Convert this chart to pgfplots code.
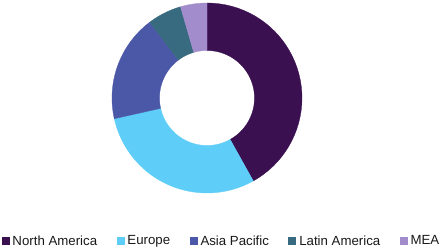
\documentclass[border=0pt]{standalone}
\usepackage{pgfplots}
\usepackage{pgfplotstable}
\pgfplotsset{compat=1.18}
\usepackage{fontspec}
\setmainfont{Liberation Sans}
\definecolor{cNA}{HTML}{3A1050}
\definecolor{cEU}{HTML}{5ECDF7}
\definecolor{cAP}{HTML}{4B58A8}
\definecolor{cLA}{HTML}{386A80}
\definecolor{cME}{HTML}{A28CCB}
\pgfplotstableread{
region share
NorthAmerica 41.9
Europe 29.6
AsiaPacific 18.2
LatinAmerica 5.8
MEA 4.5
}\shares
\def\cA{0}
\pgfplotstablegetelem{0}{share}\of\shares \pgfmathsetmacro\cB{\cA+\pgfplotsretval}
\pgfplotstablegetelem{1}{share}\of\shares \pgfmathsetmacro\cC{\cB+\pgfplotsretval}
\pgfplotstablegetelem{2}{share}\of\shares \pgfmathsetmacro\cD{\cC+\pgfplotsretval}
\pgfplotstablegetelem{3}{share}\of\shares \pgfmathsetmacro\cE{\cD+\pgfplotsretval}
\pgfplotstablegetelem{4}{share}\of\shares \pgfmathsetmacro\cF{\cE+\pgfplotsretval}
\begin{document}
\begin{tikzpicture}
\begin{axis}[
  x=1bp, y=1bp, xmin=0, xmax=441, ymin=0, ymax=249,
  hide axis, clip=false, scale only axis,
  declare function={
    ringr(\t)=(\t<50)*95+(\t>50)*47.5;
    ringa(\t,\a,\b)=90-3.6*((\t<50)*(\a+(\b-\a)*\t/40)+(\t>50)*(\b-(\b-\a)*(\t-100)/40));
  },
  samples at={0,1,...,40,100,101,...,140}, variable=\t,
  legend columns=5,
  legend image code/.code={\fill[#1] (0bp,-3.5bp) rectangle (7bp,3.5bp); \path (9bp,0bp);},
  legend style={draw=none, fill=none, at={(0.0034,0.032)}, anchor=west, inner sep=0pt,
    font=\fontsize{13.3}{15}\selectfont, text=black!90,
    nodes={inner sep=1.5bp},
    /tikz/every even column/.append style={column sep=18bp}},
]
\addplot[fill=cNA, draw=cNA, line width=0.3pt] ({207+ringr(\t)*cos(ringa(\t,\cA,\cB))}, {151+ringr(\t)*sin(ringa(\t,\cA,\cB))}) -- cycle;
\addplot[fill=cEU, draw=cEU, line width=0.3pt] ({207+ringr(\t)*cos(ringa(\t,\cB,\cC))}, {151+ringr(\t)*sin(ringa(\t,\cB,\cC))}) -- cycle;
\addplot[fill=cAP, draw=cAP, line width=0.3pt] ({207+ringr(\t)*cos(ringa(\t,\cC,\cD))}, {151+ringr(\t)*sin(ringa(\t,\cC,\cD))}) -- cycle;
\addplot[fill=cLA, draw=cLA, line width=0.3pt] ({207+ringr(\t)*cos(ringa(\t,\cD,\cE))}, {151+ringr(\t)*sin(ringa(\t,\cD,\cE))}) -- cycle;
\addplot[fill=cME, draw=cME, line width=0.3pt] ({207+ringr(\t)*cos(ringa(\t,\cE,\cF))}, {151+ringr(\t)*sin(ringa(\t,\cE,\cF))}) -- cycle;
\addplot[draw=none, forget plot] coordinates {(0,0) (441,249)};
\legend{North America, Europe, Asia Pacific, Latin America, MEA}
\end{axis}
\end{tikzpicture}
\end{document}
